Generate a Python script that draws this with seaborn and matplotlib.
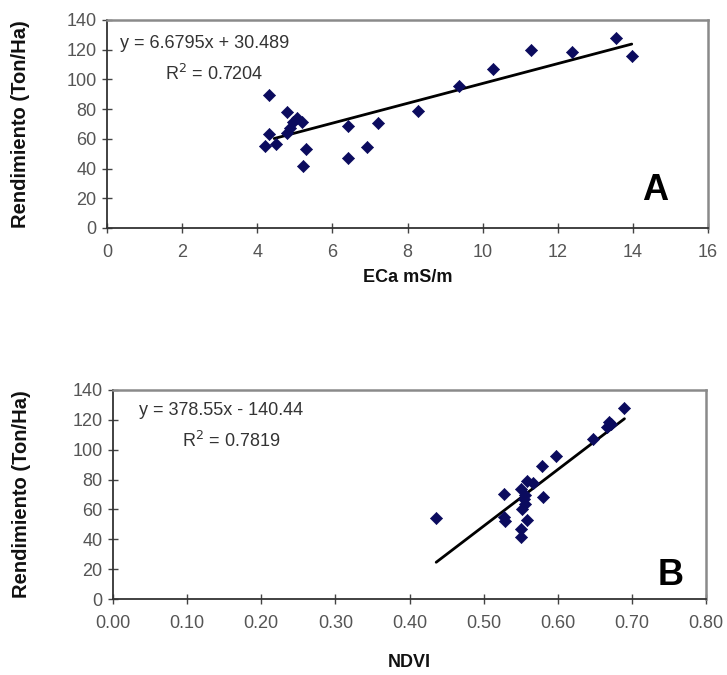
import matplotlib
matplotlib.use("Agg")
import matplotlib.pyplot as plt
import seaborn as sns
import numpy as np
import pandas as pd

# Panel A: ECa vs yield
eca = [4.31, 4.31, 4.20, 4.50, 4.80, 4.95, 5.20, 4.87, 4.80, 5.05, 5.30, 5.22,
       6.42, 6.42, 6.92, 7.21, 8.29, 9.37, 10.28, 11.28, 12.38, 13.56, 13.97]
yield_a = [89.5, 63.5, 55.0, 56.5, 78.0, 71.5, 71.5, 67.0, 64.0, 74.0, 53.0, 41.7,
           68.5, 47.0, 54.5, 70.6, 79.0, 95.7, 107.0, 119.5, 118.2, 127.8, 116.0]
coef_a = (6.6795, 30.489)
eq_a = "y = 6.6795x + 30.489"
r2_a = "R$^2$ = 0.7204"

# Panel B: NDVI vs yield
ndvi = [0.690, 0.669, 0.666, 0.672, 0.648, 0.597, 0.579, 0.5795, 0.528, 0.558,
        0.567, 0.551, 0.556, 0.554, 0.556, 0.552, 0.528, 0.529, 0.559, 0.550,
        0.550, 0.436]
yield_b = [127.7, 118.3, 115.5, 117.0, 107.5, 95.8, 89.1, 68.5, 70.3, 79.0,
           77.5, 73.5, 70.0, 66.7, 63.4, 60.0, 55.1, 52.2, 52.6, 46.6,
           41.4, 54.4]
coef_b = (378.55, -140.44)
eq_b = "y = 378.55x - 140.44"
r2_b = "R$^2$ = 0.7819"

xticks_a = [0, 2, 4, 6, 8, 10, 12, 14, 16]
xticks_b = [0.0, 0.1, 0.2, 0.3, 0.4, 0.5, 0.6, 0.7, 0.8]
yticks = [0, 20, 40, 60, 80, 100, 120, 140]

sns.set_style("white")
plt.rcParams['font.family'] = ['Liberation Sans', 'DejaVu Sans']

W, H = 727, 675
fig = plt.figure(figsize=(W / 100, H / 100), dpi=100)

def add_ax(l, r, t, b):
    return fig.add_axes([l / W, 1 - b / H, (r - l) / W, (b - t) / H])

ax1 = add_ax(107, 708, 20, 228)
ax2 = add_ax(113, 706, 390, 599)

mcolor = "#0b0b5e"
tick_col = "#555555"

def style(ax, xlim, xticks, fmt, ypad):
    ax.set_xlim(*xlim)
    ax.set_ylim(0, 140)
    ax.set_xticks(xticks)
    ax.set_yticks(yticks)
    ax.set_xticklabels([fmt(v) for v in xticks])
    ax.tick_params(axis='both', direction='inout', length=7, width=1,
                   colors="#444444", labelcolor=tick_col, labelsize=13,
                   bottom=True, left=True)
    ax.tick_params(axis='x', pad=8)
    ax.tick_params(axis='y', pad=4)
    for s in ['left', 'bottom']:
        ax.spines[s].set_color("#333333")
        ax.spines[s].set_linewidth(1.3)
    for s in ['top', 'right']:
        ax.spines[s].set_color("#8a8a8a")
        ax.spines[s].set_linewidth(1.8)
    ax.set_ylabel("Rendimiento (Ton/Ha)", fontsize=14.5, fontweight='bold',
                  color="#111111", labelpad=ypad)

# Panel A
df_a = pd.DataFrame({"ECa": eca, "Rend": yield_a})
sns.scatterplot(data=df_a, x="ECa", y="Rend", ax=ax1, marker="D", s=38,
                color=mcolor, edgecolor=mcolor, linewidth=0.5, zorder=3)
xa = np.array([4.45, max(eca)])
sns.lineplot(x=xa, y=coef_a[0] * xa + coef_a[1], ax=ax1, color="black",
             linewidth=2, zorder=2)
style(ax1, (0, 16), xticks_a, lambda v: f"{v:g}", 26)
ax1.set_xlabel("ECa mS/m", fontsize=13, fontweight='bold', color="#111111",
               labelpad=6)
ax1.text(0.35, 124, eq_a, fontsize=13, color="#333333", va='center')
ax1.text(1.55, 104, r2_a, fontsize=13, color="#333333", va='center')
ax1.text(14.6, 25, "A", fontsize=26, fontweight='bold', ha='center',
         va='center', color="black")

# Panel B
df_b = pd.DataFrame({"NDVI": ndvi, "Rend": yield_b})
sns.scatterplot(data=df_b, x="NDVI", y="Rend", ax=ax2, marker="D", s=38,
                color=mcolor, edgecolor=mcolor, linewidth=0.5, zorder=3)
xb = np.array([min(ndvi), 0.69])
sns.lineplot(x=xb, y=coef_b[0] * xb + coef_b[1], ax=ax2, color="black",
             linewidth=2, zorder=2)
style(ax2, (0, 0.8), xticks_b, lambda v: f"{v:.2f}", 30)
ax2.set_xlabel("NDVI", fontsize=13, fontweight='bold', color="#111111",
               labelpad=16)
ax2.text(0.035, 126, eq_b, fontsize=13, color="#333333", va='center')
ax2.text(0.093, 106, r2_b, fontsize=13, color="#333333", va='center')
ax2.text(0.752, 16, "B", fontsize=26, fontweight='bold', ha='center',
         va='center', color="black")

fig.savefig("out.png", dpi=100)
